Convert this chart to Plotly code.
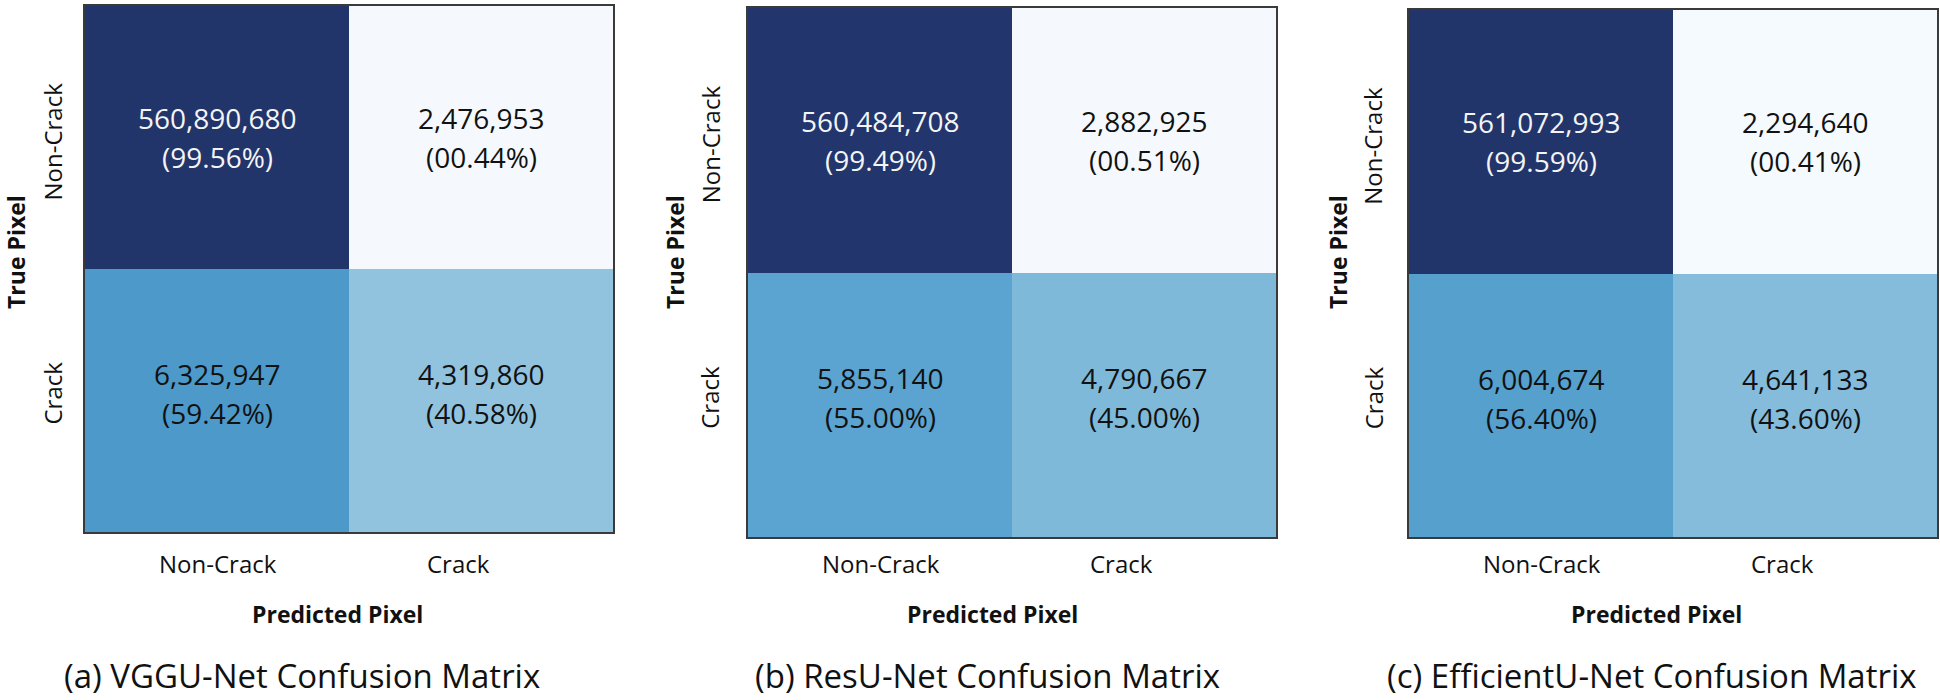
import plotly.graph_objects as go

# ---- data ----
pred_labels = ["Non-Crack", "Crack"]
true_labels = ["Non-Crack", "Crack"]
model_captions = ["(a) VGGU-Net Confusion Matrix",
                  "(b) ResU-Net Confusion Matrix",
                  "(c) EfficientU-Net Confusion Matrix"]
vgg_counts = [[560890680, 2476953], [6325947, 4319860]]
vgg_pct = [[99.56, 0.44], [59.42, 40.58]]
res_counts = [[560484708, 2882925], [5855140, 4790667]]
res_pct = [[99.49, 0.51], [55.00, 45.00]]
eff_counts = [[561072993, 2294640], [6004674, 4641133]]
eff_pct = [[99.59, 0.41], [56.40, 43.60]]
x_title = "Predicted Pixel"
y_title = "True Pixel"

panels = [(vgg_counts, vgg_pct), (res_counts, res_pct), (eff_counts, eff_pct)]

W, H = 1940, 700
FONT = "Open Sans"
colorscale = [[0.0, "#f6fafe"], [0.125, "#deebf7"], [0.25, "#c6dbef"],
              [0.375, "#9ecae1"], [0.5, "#6baed6"], [0.625, "#4292c6"],
              [0.75, "#2b6cad"], [0.875, "#1f4d8f"], [1.0, "#22346a"]]

# pixel geometry of each panel (left, right, top, bottom)
geo = [(85, 613, 6, 532), (748, 1276, 8, 537), (1409, 1937, 10, 537)]
ytick_x = [52, 710, 1373]
ytitle_x = [16, 675, 1338]
xtitle_x = [337, 993, 1656]
caption_x = [302, 988, 1652]


def paper_ann(px, py, text, size, angle=0):
    return dict(x=px / W, y=1 - py / H, xref="paper", yref="paper",
                xanchor="center", yanchor="middle", text=text, showarrow=False,
                textangle=angle, font=dict(family=FONT, size=size, color="#111111"))


fig = go.Figure()
annotations = []
for i, (counts, pct) in enumerate(panels):
    xa = "x" if i == 0 else f"x{i+1}"
    ya = "y" if i == 0 else f"y{i+1}"
    fig.add_trace(go.Heatmap(
        z=[[p / 100 for p in row] for row in pct],
        x=pred_labels, y=true_labels,
        colorscale=colorscale, zmin=0, zmax=1, showscale=False,
        xaxis=xa, yaxis=ya, hoverinfo="skip", xgap=0, ygap=0,
    ))
    l, r, t, b = geo[i]
    ax_kw = dict(showline=True, mirror=True, linecolor="#3a3a3a", linewidth=2,
                 showgrid=False, zeroline=False, ticks="", showticklabels=False)
    fig.layout[("xaxis" if i == 0 else f"xaxis{i+1}")] = dict(
        domain=[l / W, r / W], anchor=ya, **ax_kw)
    fig.layout[("yaxis" if i == 0 else f"yaxis{i+1}")] = dict(
        domain=[1 - b / H, 1 - t / H], anchor=xa, autorange="reversed", **ax_kw)
    # cell texts (two lines each)
    for ri in range(2):
        for ci in range(2):
            col = "#f4f4f4" if (ri == 0 and ci == 0) else "#111111"
            base = 0 if ri == 0 else 7
            for txt, dy in ((f"{counts[ri][ci]:,}", 19.5),
                            (f"({pct[ri][ci]:05.2f}%)", -19.5)):
                annotations.append(dict(
                    x=pred_labels[ci], y=true_labels[ri], xref=xa, yref=ya,
                    xanchor="center", yanchor="middle", yshift=dy + base,
                    text=txt, showarrow=False,
                    font=dict(family=FONT, size=28, color=col)))
    # x tick labels
    col_w = (r - l) / 2
    for ci, lab in enumerate(pred_labels):
        cx = l + col_w * (ci + 0.5) + (-23 if ci == 1 else 1)
        annotations.append(paper_ann(cx, 563, lab, 24))
    # y tick labels
    row_h = (b - t) / 2
    for ri, lab in enumerate(true_labels):
        cy = t + row_h * (ri + 0.5) + (4 if ri == 0 else -7)
        annotations.append(paper_ann(ytick_x[i], cy, lab, 24, -90))
    # axis titles
    annotations.append(paper_ann(xtitle_x[i], 614, f"<b>{x_title}</b>", 23))
    annotations.append(paper_ann(ytitle_x[i], 252, f"<b>{y_title}</b>", 23, -90))
    # caption
    annotations.append(paper_ann(caption_x[i], 675, model_captions[i], 33))

fig.update_layout(width=W, height=H, margin=dict(l=0, r=0, t=0, b=0),
                  paper_bgcolor="white", plot_bgcolor="white",
                  annotations=annotations, showlegend=False)
fig.write_html("out.html", include_plotlyjs=True, config={"displayModeBar": False},
               post_script="document.body.style.margin='0';"
                           "document.documentElement.style.overflow='hidden';")
